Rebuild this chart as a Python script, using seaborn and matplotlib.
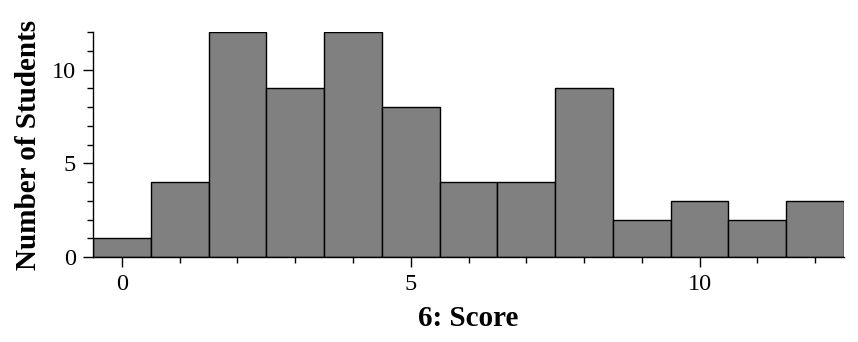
import matplotlib
matplotlib.use("Agg")
import matplotlib.pyplot as plt
import seaborn as sns
from matplotlib.ticker import MultipleLocator

scores = [0, 1, 2, 3, 4, 5, 6, 7, 8, 9, 10, 11, 12]
counts = [1, 4, 12, 9, 12, 8, 4, 4, 9, 2, 3, 2, 3]
x_label = "6: Score"
y_label = "Number of Students"

sns.set_style("ticks")
plt.rcParams["font.family"] = ["Liberation Serif", "DejaVu Serif"]
plt.rcParams["text.color"] = "black"
plt.rcParams["axes.labelcolor"] = "black"

fig = plt.figure(figsize=(8.58, 3.42), dpi=100)
ax = fig.add_axes([93/858, 1 - 257/342, (844-93)/858, (257-32)/342])

sns.histplot(x=scores, weights=counts, discrete=True, color="#808080",
             edgecolor="black", linewidth=1.0, alpha=1, ax=ax)

ax.set_xlim(-0.5, 12.5)
ax.set_ylim(0, 12)
ax.xaxis.set_major_locator(MultipleLocator(5))
ax.xaxis.set_minor_locator(MultipleLocator(1))
ax.yaxis.set_major_locator(MultipleLocator(5))
ax.yaxis.set_minor_locator(MultipleLocator(1))
ax.tick_params(which="major", length=7, width=1, labelsize=17.5, color="black", labelcolor="black", pad=5.5)
ax.tick_params(which="minor", length=4, width=1, color="black")
for s in ["top", "right"]:
    ax.spines[s].set_visible(False)
for s in ["left", "bottom"]:
    ax.spines[s].set_color("black")
    ax.spines[s].set_linewidth(1)

ax.set_xlabel(x_label, fontsize=21, fontweight="bold", labelpad=7, color="black")
ax.set_ylabel(y_label, fontsize=21, fontweight="bold", labelpad=7, color="black")

fig.savefig("out.png", dpi=100)
